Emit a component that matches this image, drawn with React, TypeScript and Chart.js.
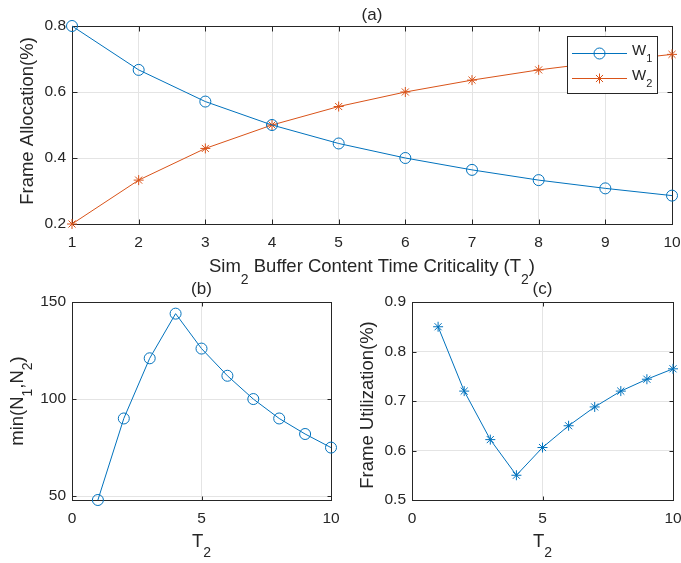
import React, { useEffect, useRef } from "react";
import { Chart, registerables } from "chart.js";

Chart.register(...registerables);

// ---------- data ----------
const T2 = [1, 2, 3, 4, 5, 6, 7, 8, 9, 10];
const w1 = [0.8, 0.667, 0.571, 0.5, 0.444, 0.4, 0.364, 0.333, 0.308, 0.286];
const w2 = [0.2, 0.333, 0.429, 0.5, 0.556, 0.6, 0.636, 0.667, 0.692, 0.714];
const minN = [48, 90, 121, 144, 126, 112, 100, 90, 82, 75];
const util = [0.85, 0.72, 0.622, 0.55, 0.606, 0.65, 0.688, 0.72, 0.744, 0.765];

const xTicksA = [1, 2, 3, 4, 5, 6, 7, 8, 9, 10];
const xTickLabelsA = ["1", "2", "3", "4", "5", "6", "7", "8", "9", "10"];
const yTicksA = [0.2, 0.4, 0.6, 0.8];
const yTickLabelsA = ["0.2", "0.4", "0.6", "0.8"];
const xTicksBC = [0, 5, 10];
const xTickLabelsBC = ["0", "5", "10"];
const yTicksB = [50, 100, 150];
const yTickLabelsB = ["50", "100", "150"];
const yTicksC = [0.5, 0.6, 0.7, 0.8, 0.9];
const yTickLabelsC = ["0.5", "0.6", "0.7", "0.8", "0.9"];

type Part = [string, boolean];
const titleA = "(a)";
const titleB = "(b)";
const titleC = "(c)";
const xLabelA: Part[] = [["Sim", false], ["2", true], [" Buffer Content Time Criticality (T", false], ["2", true], [")", false]];
const yLabelA: Part[] = [["Frame Allocation(%)", false]];
const xLabelBC: Part[] = [["T", false], ["2", true]];
const yLabelB: Part[] = [["min(N", false], ["1", true], [",N", false], ["2", true], [")", false]];
const yLabelC: Part[] = [["Frame Utilization(%)", false]];
const legendA: Part[][] = [[["W", false], ["1", true]], [["W", false], ["2", true]]];

// ---------- style ----------
const FF = '"Liberation Sans", Arial, Helvetica, sans-serif';
const TXT = "#262626";
const GRID = "#e4e4e4";
const BLUE = "#0072BD";
const ORANGE = "#D95319";
const TICK_FONT = 15.5;
const LABEL_FONT = 18.5;
const TITLE_FONT = 17;

function drawRich(ctx: CanvasRenderingContext2D, parts: Part[], x: number, y: number, rot: number, size: number, subSize: number, subShift: number, align: "center" | "left" = "center") {
  ctx.save();
  ctx.translate(x, y);
  ctx.rotate(rot);
  let w = 0;
  const ms = parts.map(([t, s]) => {
    ctx.font = `${s ? subSize : size}px ${FF}`;
    const m = ctx.measureText(t).width;
    w += m;
    return m;
  });
  let cx = align === "center" ? -w / 2 : 0;
  ctx.textBaseline = "alphabetic";
  ctx.textAlign = "left";
  ctx.fillStyle = TXT;
  parts.forEach(([t, s], i) => {
    ctx.font = `${s ? subSize : size}px ${FF}`;
    ctx.fillText(t, cx, s ? subShift : 0);
    cx += ms[i];
  });
  ctx.restore();
}

function drawMarker(ctx: CanvasRenderingContext2D, style: string, x: number, y: number, r: number, color: string) {
  ctx.save();
  ctx.strokeStyle = color;
  ctx.lineWidth = 1;
  ctx.beginPath();
  if (style === "circle") {
    ctx.arc(x, y, r, 0, Math.PI * 2);
  } else {
    for (let k = 0; k < 4; k++) {
      const a = (k * Math.PI) / 4;
      ctx.moveTo(x - Math.cos(a) * r, y - Math.sin(a) * r);
      ctx.lineTo(x + Math.cos(a) * r, y + Math.sin(a) * r);
    }
  }
  ctx.stroke();
  ctx.restore();
}

interface FrameOpts {
  id: string;
  title: string;
  titleY: number;
  xLabel: Part[];
  xLabelY: number;
  xSubShift: number;
  yLabel: Part[];
  yLabelX: number;
  yLabelY: number;
  ySubShift: number;
  tickLen: number;
  legend?: boolean;
}

function framePlugin(o: FrameOpts) {
  return {
    id: o.id,
    beforeDatasetsDraw(chart: any) {
      const { ctx, chartArea } = chart;
      const xs = chart.scales.x;
      const ys = chart.scales.y;
      const L = Math.round(chartArea.left) + 0.5;
      const R = Math.round(chartArea.right) + 0.5;
      const T = Math.round(chartArea.top) + 0.5;
      const B = Math.round(chartArea.bottom) + 0.5;
      ctx.save();
      ctx.strokeStyle = TXT;
      ctx.lineWidth = 1;
      ctx.beginPath();
      xs.ticks.forEach((t: any) => {
        const px = Math.round(xs.getPixelForValue(t.value)) + 0.5;
        ctx.moveTo(px, B);
        ctx.lineTo(px, B - o.tickLen);
        ctx.moveTo(px, T);
        ctx.lineTo(px, T + o.tickLen);
      });
      ys.ticks.forEach((t: any) => {
        const py = Math.round(ys.getPixelForValue(t.value)) + 0.5;
        ctx.moveTo(L, py);
        ctx.lineTo(L + o.tickLen, py);
        ctx.moveTo(R, py);
        ctx.lineTo(R - o.tickLen, py);
      });
      ctx.stroke();
      ctx.strokeRect(L, T, R - L, B - T);
      ctx.restore();
    },
    afterDatasetsDraw(chart: any) {
      if (!o.legend) return;
      const { ctx } = chart;
      ctx.save();
      ctx.fillStyle = "#ffffff";
      ctx.fillRect(567.5, 36.5, 90, 57);
      ctx.strokeStyle = TXT;
      ctx.lineWidth = 1;
      ctx.strokeRect(567.5, 36.5, 90, 57);
      const rows = [
        { y: 53.5, color: BLUE, style: "circle", r: 5.5, text: legendA[0], ty: 55 },
        { y: 78.5, color: ORANGE, style: "star", r: 5, text: legendA[1], ty: 80 },
      ];
      rows.forEach((row) => {
        ctx.strokeStyle = row.color;
        ctx.beginPath();
        ctx.moveTo(572, row.y);
        ctx.lineTo(627, row.y);
        ctx.stroke();
        drawMarker(ctx, row.style, 599.5, row.y, row.r, row.color);
        drawRich(ctx, row.text, 632, row.ty, 0, 15, 11, 7, "left");
      });
      ctx.restore();
    },
    afterDraw(chart: any) {
      const { ctx, chartArea } = chart;
      const cx = (chartArea.left + chartArea.right) / 2;
      drawRich(ctx, [[o.title, false]], cx, o.titleY, 0, TITLE_FONT, TITLE_FONT, 0);
      drawRich(ctx, o.xLabel, cx, o.xLabelY, 0, LABEL_FONT, 14, o.xSubShift);
      drawRich(ctx, o.yLabel, o.yLabelX, o.yLabelY, -Math.PI / 2, LABEL_FONT, 14, o.ySubShift);
    },
  };
}

function makeConfig(p: {
  datasets: any[];
  padding: any;
  xMin: number; xMax: number; xTicks: number[]; xTickLabels: string[];
  yMin: number; yMax: number; yTicks: number[]; yTickLabels: string[];
  frame: FrameOpts;
}) {
  return {
    type: "line" as const,
    data: { datasets: p.datasets },
    options: {
      responsive: false,
      animation: false as const,
      events: [],
      layout: { padding: p.padding },
      plugins: { legend: { display: false }, tooltip: { enabled: false }, title: { display: false } },
      scales: {
        x: {
          type: "linear" as const,
          min: p.xMin,
          max: p.xMax,
          afterBuildTicks: (a: any) => { a.ticks = p.xTicks.map((v) => ({ value: v })); },
          afterFit: (s: any) => { s.height = 30; s.paddingLeft = 0; s.paddingRight = 0; s.paddingTop = 0; s.paddingBottom = 0; },
          grid: { color: GRID, drawTicks: false, lineWidth: 1 },
          border: { display: false },
          ticks: {
            padding: 9,
            color: TXT,
            font: { family: FF, size: TICK_FONT },
            maxRotation: 0,
            autoSkip: false,
            callback: (_v: any, i: number) => p.xTickLabels[i],
          },
        },
        y: {
          type: "linear" as const,
          min: p.yMin,
          max: p.yMax,
          afterBuildTicks: (a: any) => { a.ticks = p.yTicks.map((v) => ({ value: v })); },
          afterFit: (s: any) => { s.width = 72; s.paddingLeft = 0; s.paddingRight = 0; s.paddingTop = 0; s.paddingBottom = 0; },
          grid: { color: GRID, drawTicks: false, lineWidth: 1 },
          border: { display: false },
          ticks: {
            padding: 6,
            color: TXT,
            font: { family: FF, size: TICK_FONT },
            autoSkip: false,
            callback: (_v: any, i: number) => p.yTickLabels[i],
          },
        },
      },
    },
    plugins: [framePlugin(p.frame)],
  };
}

function series(xs: number[], ys: number[], color: string, style: string, r: number) {
  return {
    data: xs.map((x, i) => ({ x, y: ys[i] })),
    borderColor: color,
    borderWidth: 1,
    pointStyle: style,
    pointRadius: r,
    pointBorderColor: color,
    pointBackgroundColor: "rgba(0,0,0,0)",
    pointBorderWidth: 1,
    tension: 0,
    fill: false,
    clip: false,
  };
}

export default function App() {
  const refA = useRef<HTMLCanvasElement>(null);
  const refB = useRef<HTMLCanvasElement>(null);
  const refC = useRef<HTMLCanvasElement>(null);

  useEffect(() => {
    const charts: Chart[] = [];
    charts.push(
      new Chart(refA.current as HTMLCanvasElement, makeConfig({
        datasets: [series(T2, w1, BLUE, "circle", 5.5), series(T2, w2, ORANGE, "star", 5)],
        padding: { left: 0, top: 26, right: 9, bottom: 309 },
        xMin: 1, xMax: 10, xTicks: xTicksA, xTickLabels: xTickLabelsA,
        yMin: 0.2, yMax: 0.8, yTicks: yTicksA, yTickLabels: yTickLabelsA,
        frame: {
          id: "frameA", title: titleA, titleY: 19.5,
          xLabel: xLabelA, xLabelY: 272, xSubShift: 12,
          yLabel: yLabelA, yLabelX: 33, yLabelY: 121, ySubShift: 10,
          tickLen: 5, legend: true,
        },
      }) as any)
    );
    charts.push(
      new Chart(refB.current as HTMLCanvasElement, makeConfig({
        datasets: [series(T2, minN, BLUE, "circle", 5.5)],
        padding: { left: 0, top: 302, right: 350, bottom: 33 },
        xMin: 0, xMax: 10, xTicks: xTicksBC, xTickLabels: xTickLabelsBC,
        yMin: 48, yMax: 150, yTicks: yTicksB, yTickLabels: yTickLabelsB,
        frame: {
          id: "frameB", title: titleB, titleY: 293.5,
          xLabel: xLabelBC, xLabelY: 547, xSubShift: 10,
          yLabel: yLabelB, yLabelX: 23, yLabelY: 401, ySubShift: 9,
          tickLen: 4,
        },
      }) as any)
    );
    charts.push(
      new Chart(refC.current as HTMLCanvasElement, makeConfig({
        datasets: [series(T2, util, BLUE, "star", 5)],
        padding: { left: 340, top: 302, right: 8, bottom: 33 },
        xMin: 0, xMax: 10, xTicks: xTicksBC, xTickLabels: xTickLabelsBC,
        yMin: 0.5, yMax: 0.9, yTicks: yTicksC, yTickLabels: yTickLabelsC,
        frame: {
          id: "frameC", title: titleC, titleY: 293.5,
          xLabel: xLabelBC, xLabelY: 547, xSubShift: 10,
          yLabel: yLabelC, yLabelX: 373, yLabelY: 405, ySubShift: 9,
          tickLen: 4,
        },
      }) as any)
    );
    return () => charts.forEach((c) => c.destroy());
  }, []);

  const cs: React.CSSProperties = { position: "absolute", left: 0, top: 0, width: 681, height: 563 };
  return (
    <div style={{ position: "absolute", left: 0, top: 0, width: 681, height: 563, background: "#ffffff" }}>
      <canvas ref={refA} width={681} height={563} style={cs} />
      <canvas ref={refB} width={681} height={563} style={cs} />
      <canvas ref={refC} width={681} height={563} style={cs} />
    </div>
  );
}
